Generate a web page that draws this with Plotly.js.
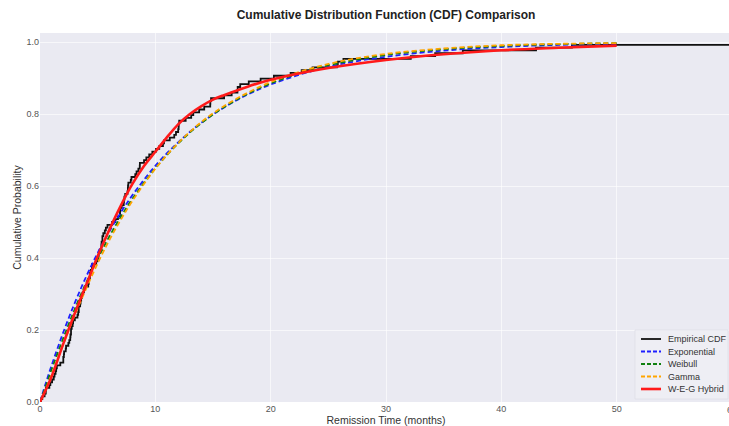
<!DOCTYPE html>
<html>
<head>
<meta charset="utf-8">
<script src="https://cdn.plot.ly/plotly-3.0.1.min.js"></script>
<style>
html,body{margin:0;padding:0;width:729px;height:426px;overflow:hidden;background:#fff;}
#chart{width:732px;height:426px;}
</style>
</head>
<body>
<div id="chart"></div>
<script>
// Remission times (months) behind the empirical CDF steps
const remissionTimes = [
0.08,0.20,0.40,0.50,0.51,0.81,0.90,1.05,1.19,1.26,
1.35,1.40,1.46,1.76,2.02,2.02,2.07,2.09,2.23,2.26,
2.46,2.54,2.62,2.64,2.69,2.69,2.75,2.83,2.87,3.02,
3.25,3.31,3.36,3.36,3.48,3.52,3.57,3.64,3.70,3.82,
3.88,4.18,4.23,4.26,4.33,4.34,4.40,4.50,4.51,4.87,
4.98,5.06,5.09,5.17,5.32,5.32,5.34,5.41,5.41,5.49,
5.62,5.71,5.85,6.25,6.54,6.76,6.93,6.94,6.97,7.09,
7.26,7.28,7.32,7.39,7.59,7.62,7.63,7.66,7.87,7.93,
8.26,8.37,8.53,8.65,8.66,9.02,9.22,9.47,9.74,10.06,
10.34,10.66,10.75,11.25,11.64,11.79,11.98,12.02,12.03,12.07,
12.63,13.11,13.29,13.80,14.24,14.76,14.77,14.83,15.96,16.62,
17.12,17.14,17.36,18.10,19.13,20.28,21.73,22.69,23.63,25.74,
25.82,26.31,32.15,34.26,36.66,43.01,46.12,79.05];

// Fitted-curve sample points
const fitX        = [0, 0.5, 1, 2, 3, 4, 5, 6, 7, 8, 10, 12, 14, 16, 18, 20, 23, 26, 30, 35, 40, 45, 50];
const expCDF      = [0, 0.052, 0.101, 0.192, 0.274, 0.348, 0.414, 0.473, 0.526, 0.574, 0.656, 0.722, 0.776, 0.819, 0.854, 0.882, 0.914, 0.938, 0.959, 0.976, 0.986, 0.992, 0.995];
const weibullCDF  = [0, 0.044, 0.090, 0.176, 0.257, 0.331, 0.398, 0.459, 0.514, 0.564, 0.649, 0.719, 0.775, 0.820, 0.856, 0.885, 0.919, 0.942, 0.964, 0.980, 0.989, 0.994, 0.997];
const gammaCDF    = [0, 0.035, 0.075, 0.159, 0.240, 0.315, 0.385, 0.449, 0.506, 0.558, 0.648, 0.720, 0.778, 0.823, 0.859, 0.889, 0.922, 0.946, 0.967, 0.982, 0.991, 0.995, 0.997];

const hybridX     = [0, 1, 2, 3, 4, 5, 6, 7, 8, 9, 10, 11, 12, 13, 14, 15, 16, 18, 20, 22, 25, 30, 35, 40, 45, 50];
const hybridCDF   = [0, 0.07, 0.16, 0.245, 0.325, 0.405, 0.478, 0.545, 0.605, 0.655, 0.695, 0.735, 0.772, 0.800, 0.822, 0.840, 0.853, 0.876, 0.895, 0.910, 0.928, 0.950, 0.966, 0.977, 0.984, 0.990];

const seriesNames  = ['Empirical CDF', 'Exponential', 'Weibull', 'Gamma', 'W-E-G Hybrid'];
const seriesColors = ['#111111', '#1f1fff', '#108010', '#ffa500', '#ff1a1a'];
const seriesDash   = ['solid', '5px,3px', '5px,3px', '5px,3px', 'solid'];
const seriesWidth  = [1.8, 1.8, 1.8, 1.8, 2.6];
const xTicks = [0, 10, 20, 30, 40, 50, 60];
const yTicks = [0.0, 0.2, 0.4, 0.6, 0.8, 1.0];

// empirical step function
const sorted = remissionTimes.slice().sort((a, b) => a - b);
const n = sorted.length;
const ecdfX = [0].concat(sorted);
const ecdfY = [0].concat(sorted.map((_, i) => (i + 1) / n));

const xs = [ecdfX, fitX, fitX, fitX, hybridX];
const ys = [ecdfY, expCDF, weibullCDF, gammaCDF, hybridCDF];
const traces = seriesNames.map((name, i) => ({
  x: xs[i], y: ys[i], name: name, mode: 'lines', showlegend: false,
  line: {color: seriesColors[i], width: seriesWidth[i], dash: seriesDash[i],
         shape: i === 0 ? 'hv' : 'spline'}
}));

// compact legend (matplotlib-like spacing) built in paper coordinates
const W = 732, H = 426, mL = 40, mR = 0, mT = 33, mB = 24;
const pw = W - mL - mR, ph = H - mT - mB;
const px2x = p => (p - mL) / pw;
const py2y = p => (H - mB - p) / ph;
const legendRows = [339, 351.5, 364, 376.5, 389];
const shapes = [{type: 'rect', xref: 'paper', yref: 'paper',
  x0: px2x(635), x1: px2x(728), y0: py2y(399), y1: py2y(330),
  fillcolor: 'rgba(238,238,245,0.85)', line: {color: 'rgba(220,220,228,0.8)', width: 0.8}, layer: 'above'}];
const annotations = [];
seriesNames.forEach((name, i) => {
  shapes.push({type: 'line', xref: 'paper', yref: 'paper',
    x0: px2x(641), x1: px2x(661), y0: py2y(legendRows[i]), y1: py2y(legendRows[i]),
    line: {color: seriesColors[i], width: seriesWidth[i], dash: seriesDash[i] === 'solid' ? 'solid' : '4px,2px'}, layer: 'above'});
  annotations.push({xref: 'paper', yref: 'paper', x: px2x(666), y: py2y(legendRows[i]),
    xanchor: 'left', yanchor: 'middle', showarrow: false, text: name,
    font: {size: 9, color: '#333333'}});
});
// the 60 tick label falls at the cut edge of the picture
annotations.push({xref: 'x', yref: 'paper', x: 60, y: 0, yanchor: 'top', xanchor: 'center', yshift: -1,
  showarrow: false, text: String(xTicks[xTicks.length - 1]),
  font: {family: 'Liberation Sans, Arial, sans-serif', size: 9, color: '#555555'}});

const tickFont = {family: 'Liberation Sans, Arial, sans-serif', size: 9, color: '#555555'};
const layout = {
  width: W, height: H,
  margin: {l: mL, r: mR, t: mT, b: mB},
  paper_bgcolor: '#ffffff',
  plot_bgcolor: '#eaeaf2',
  font: {family: 'Liberation Sans, Arial, sans-serif', color: '#333333'},
  title: {text: '<b>Cumulative Distribution Function (CDF) Comparison</b>',
          font: {size: 12, color: '#222222'}, x: 0.5, xanchor: 'center', xref: 'paper',
          y: 0.965, yanchor: 'middle'},
  xaxis: {range: [0, 60], tickvals: xTicks.slice(0, -1), ticktext: xTicks.slice(0, -1).map(String),
          showgrid: true, gridcolor: 'rgba(255,255,255,0.6)', gridwidth: 1,
          zeroline: false, showline: false, ticks: '', tickfont: tickFont,
          title: {text: 'Remission Time (months)', font: {size: 10.5, color: '#333333'}, standoff: 2}},
  yaxis: {range: [0, 1.025], tickvals: yTicks, ticktext: yTicks.map(v => v.toFixed(1)),
          showgrid: true, gridcolor: 'rgba(255,255,255,0.6)', gridwidth: 1,
          zeroline: false, showline: false, ticks: '', tickfont: tickFont,
          title: {text: 'Cumulative Probability', font: {size: 10.5, color: '#333333'}, standoff: 2}},
  shapes: shapes,
  annotations: annotations,
  showlegend: false
};

Plotly.newPlot('chart', traces, layout, {displayModeBar: false, staticPlot: true});
</script>
</body>
</html>
